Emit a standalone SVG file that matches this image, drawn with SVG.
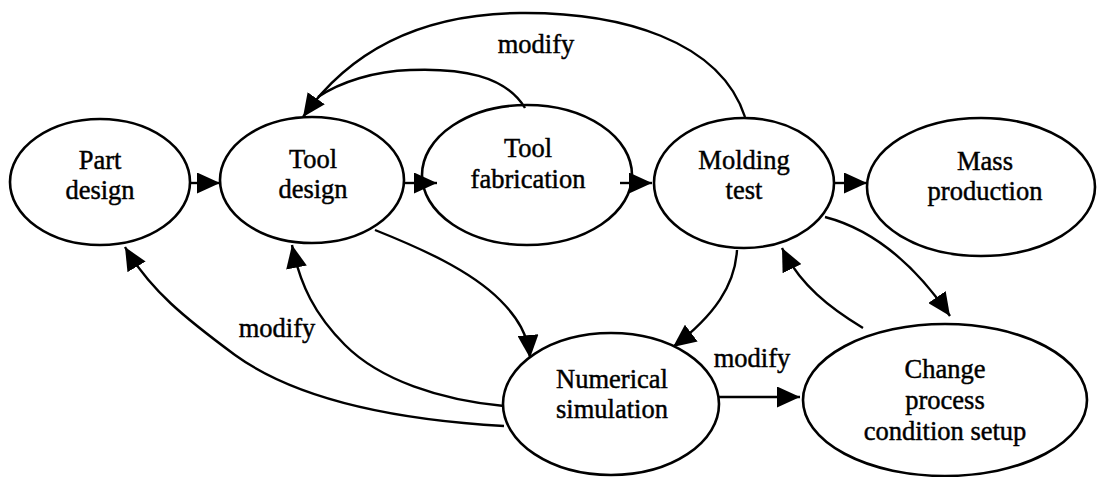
<svg xmlns="http://www.w3.org/2000/svg" width="1097" height="477" viewBox="0 0 1097 477">
  <style>
    .node ellipse { fill: #fff; stroke: #000; stroke-width: 2.6; }
    .node text, .label { font-family: "Liberation Serif", "Times New Roman", serif; font-size: 26.5px; fill: #000; stroke: #000; stroke-width: 0.45; text-anchor: middle; }
    .edge { fill: none; stroke: #000; stroke-width: 2.4; marker-end: url(#head); }
    .line { fill: none; stroke: #000; stroke-width: 2.4; }
  </style>
  <defs>
    <marker id="head" markerUnits="userSpaceOnUse" markerWidth="23" markerHeight="21" refX="23" refY="10.5" orient="auto" viewBox="0 0 23 21">
      <path d="M0,0 L23,10.5 L0,21 Z" fill="#000"/>
    </marker>
  </defs>

  <!-- connectors -->
  <g id="connectors">
    <path class="edge" d="M190,183 L220,183"/>
    <path class="edge" d="M405,183 L437,183"/>
    <path class="edge" d="M620,183 L652,183"/>
    <path class="edge" d="M835,183 L867,183"/>
    <!-- feedback from molding test and tool fabrication back to tool design -->
    <path class="edge" d="M745,117 C720,40 620,12 520,13 C420,14 350,50 303,117"/>
    <path class="line" d="M525,108 C505,75 460,68 410,70 C375,71 340,82 318,97"/>
    <!-- simulation loops -->
    <path class="edge" d="M375,230 C420,248 470,270 500,300 C518,318 528,335 530,358"/>
    <path class="edge" d="M504,406 C440,400 380,380 345,345 C315,315 300,285 292,245"/>
    <path class="edge" d="M504,426 C400,420 300,402 235,355 C185,318 150,290 125,247"/>
    <path class="edge" d="M737,250 C735,285 715,315 673,347"/>
    <path class="edge" d="M825,217 C875,230 915,265 950,316"/>
    <path class="edge" d="M863,328 C830,308 800,285 782,248"/>
    <path class="edge" d="M719,397 L800,397"/>
  </g>

  <g id="part-design" class="node">
    <ellipse cx="100" cy="182" rx="90" ry="63"/>
    <text x="100" y="169">Part</text>
    <text x="100" y="199">design</text>
  </g>
  <g id="tool-design" class="node">
    <ellipse cx="312" cy="180" rx="92" ry="63"/>
    <text x="313" y="168">Tool</text>
    <text x="313" y="198">design</text>
  </g>
  <g id="tool-fabrication" class="node">
    <ellipse cx="527" cy="175" rx="105" ry="70" style="fill:none"/>
    <text x="528" y="157">Tool</text>
    <text x="528" y="188">fabrication</text>
  </g>
  <g id="molding-test" class="node">
    <ellipse cx="744" cy="183" rx="90" ry="65"/>
    <text x="744" y="169">Molding</text>
    <text x="744" y="199">test</text>
  </g>
  <g id="mass-production" class="node">
    <ellipse cx="981" cy="187" rx="114" ry="69"/>
    <text x="985" y="170">Mass</text>
    <text x="985" y="200">production</text>
  </g>
  <g id="numerical-simulation" class="node">
    <ellipse cx="611" cy="404" rx="108" ry="71"/>
    <text x="612" y="388">Numerical</text>
    <text x="612" y="418">simulation</text>
  </g>
  <g id="change-process" class="node">
    <ellipse cx="945" cy="400" rx="142" ry="76"/>
    <text x="945" y="378">Change</text>
    <text x="945" y="409">process</text>
    <text x="945" y="440">condition setup</text>
  </g>

  <g id="labels">
    <text class="label" x="536" y="53">modify</text>
    <text class="label" x="277" y="337">modify</text>
    <text class="label" x="752" y="367">modify</text>
  </g>
</svg>
